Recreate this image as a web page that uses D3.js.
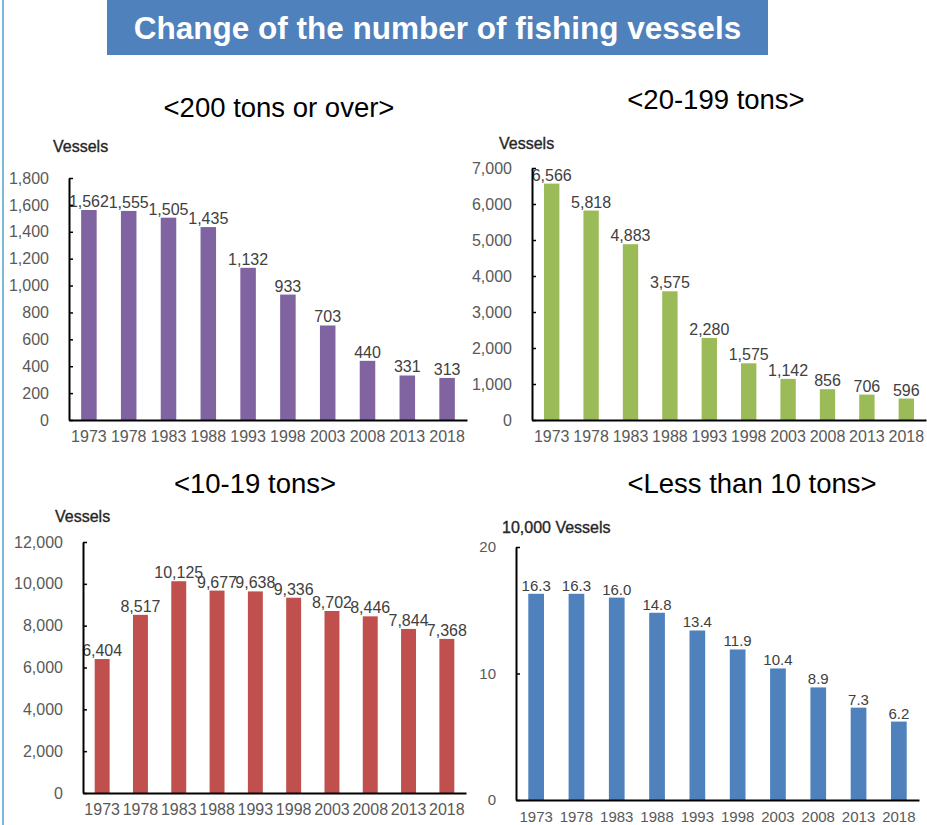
<!DOCTYPE html>
<html>
<head>
<meta charset="utf-8">
<script src="https://cdn.jsdelivr.net/npm/d3@7"></script>
<style>
  html, body { margin: 0; padding: 0; background: #fff; }
  svg { display: block; }
  text { font-family: "Liberation Sans", Arial, sans-serif; }
</style>
</head>
<body>
<svg id="chart" width="927" height="825"></svg>
<script>
// Survey years shared by all four panels
const years = ["1973", "1978", "1983", "1988", "1993", "1998", "2003", "2008", "2013", "2018"];

// Number of fishing vessels by tonnage class
const tons200OrOver = [1562, 1555, 1505, 1435, 1132, 933, 703, 440, 331, 313];
const tons20to199 = [6566, 5818, 4883, 3575, 2280, 1575, 1142, 856, 706, 596];
const tons10to19 = [6404, 8517, 10125, 9677, 9638, 9336, 8702, 8446, 7844, 7368];
const under10Tons = [16.3, 16.3, 16.0, 14.8, 13.4, 11.9, 10.4, 8.9, 7.3, 6.2]; // in 10,000 vessels

// Value-axis ticks for each panel
const ticks200OrOver = [0, 200, 400, 600, 800, 1000, 1200, 1400, 1600, 1800];
const ticks20to199 = [0, 1000, 2000, 3000, 4000, 5000, 6000, 7000];
const ticks10to19 = [0, 2000, 4000, 6000, 8000, 10000, 12000];
const ticksUnder10 = [0, 10, 20];

const titleText = "Change of the number of fishing vessels";

const svg = d3.select("#chart");

// Thin frame line on the left edge
svg.append("line")
  .attr("x1", 3).attr("x2", 3).attr("y1", 0).attr("y2", 825)
  .attr("stroke", "#7ab8dc").attr("stroke-width", 2);

// Title banner
svg.append("rect")
  .attr("x", 107).attr("y", 0).attr("width", 661).attr("height", 55)
  .attr("fill", "#4f81bd");
svg.append("text")
  .attr("x", 437.5).attr("y", 39)
  .attr("text-anchor", "middle")
  .attr("fill", "#fff")
  .attr("font-weight", "bold")
  .attr("font-size", 31.5)
  .text(titleText);

const panels = [
  { title: "<200 tons or over>", titleX: 279, titleY: 117,
    unit: "Vessels", unitX: 53, unitY: 152,
    values: tons200OrOver, ticks: ticks200OrOver, max: 1800,
    x0: 69, x1: 467, yTop: 178, yBottom: 420,
    color: "#8064a2", fmt: d3.format(","), fontSize: 16 },
  { title: "<20-199 tons>", titleX: 716, titleY: 109,
    unit: "Vessels", unitX: 499, unitY: 149,
    values: tons20to199, ticks: ticks20to199, max: 7000,
    x0: 532, x1: 926, yTop: 168, yBottom: 420,
    color: "#9bbb59", fmt: d3.format(","), fontSize: 16 },
  { title: "<10-19 tons>", titleX: 255, titleY: 493,
    unit: "Vessels", unitX: 55, unitY: 522,
    values: tons10to19, ticks: ticks10to19, max: 12000,
    x0: 83, x1: 466, yTop: 542, yBottom: 793,
    color: "#c0504d", fmt: d3.format(","), fontSize: 16 },
  { title: "<Less than 10 tons>", titleX: 752, titleY: 493,
    unit: "10,000 Vessels", unitX: 502, unitY: 533,
    values: under10Tons, ticks: ticksUnder10, max: 20,
    x0: 516, x1: 919, yTop: 547, yBottom: 800,
    color: "#4f81bd", fmt: d3.format(".1f"), fontSize: 15 }
];

panels.forEach(p => {
  const g = svg.append("g");

  g.append("text")
    .attr("x", p.titleX).attr("y", p.titleY)
    .attr("text-anchor", "middle")
    .attr("font-size", 27.5)
    .attr("fill", "#000")
    .text(p.title);

  g.append("text")
    .attr("x", p.unitX).attr("y", p.unitY)
    .attr("font-size", 16)
    .attr("fill", "#262626")
    .attr("stroke", "#262626")
    .attr("stroke-width", 0.35)
    .text(p.unit);

  const x = d3.scaleBand()
    .domain(years)
    .range([p.x0, p.x1])
    .paddingInner(0.61)
    .paddingOuter(0.305);

  const y = d3.scaleLinear()
    .domain([0, p.max])
    .range([p.yBottom, p.yTop]);

  // Bars
  g.selectAll("rect.bar")
    .data(p.values)
    .join("rect")
    .attr("class", "bar")
    .attr("x", (d, i) => x(years[i]))
    .attr("y", d => y(d))
    .attr("width", x.bandwidth())
    .attr("height", d => y(0) - y(d))
    .attr("fill", p.color);

  // Value labels above bars
  g.selectAll("text.val")
    .data(p.values)
    .join("text")
    .attr("class", "val")
    .attr("x", (d, i) => x(years[i]) + x.bandwidth() / 2)
    .attr("y", d => y(d) - 3)
    .attr("text-anchor", "middle")
    .attr("font-size", p.fontSize)
    .attr("fill", "#404040")
    .text(d => p.fmt(d));

  // Value axis
  const yAxis = d3.axisLeft(y)
    .tickValues(p.ticks)
    .tickFormat(d3.format(","))
    .tickSizeInner(-4)
    .tickSizeOuter(0)
    .tickPadding(20);
  const ya = g.append("g")
    .attr("transform", `translate(${p.x0},0)`)
    .call(yAxis);
  ya.select(".domain").attr("stroke", "#000").attr("stroke-width", 2);
  ya.selectAll(".tick line").attr("stroke", "#000").attr("stroke-width", 1.5);
  ya.selectAll(".tick text")
    .attr("font-size", p.fontSize)
    .attr("font-family", "'Liberation Sans', Arial, sans-serif")
    .attr("fill", "#595959");

  // Category axis
  const xAxis = d3.axisBottom(x).tickSize(0).tickPadding(11);
  const xa = g.append("g")
    .attr("transform", `translate(0,${p.yBottom})`)
    .call(xAxis);
  xa.select(".domain").attr("stroke", "#000").attr("stroke-width", 2);
  xa.selectAll(".tick text")
    .attr("font-size", p.fontSize)
    .attr("font-family", "'Liberation Sans', Arial, sans-serif")
    .attr("fill", "#595959");
});
</script>
</body>
</html>
